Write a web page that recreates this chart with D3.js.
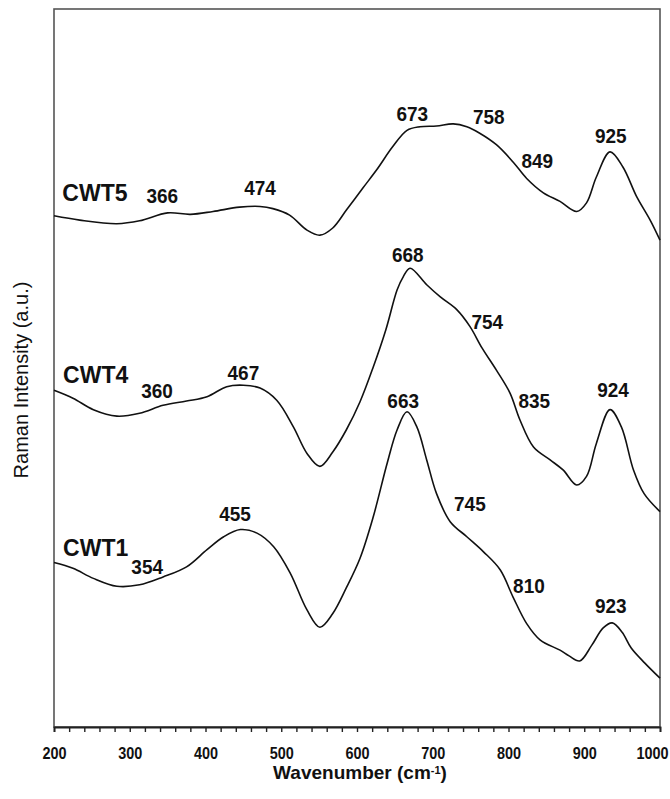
<!DOCTYPE html>
<html>
<head>
<meta charset="utf-8">
<script src="https://cdn.jsdelivr.net/npm/d3@7"></script>
<style>
  body { margin: 0; background: #fff; }
  svg { display: block; }
</style>
</head>
<body>
<svg id="chart" width="670" height="799"></svg>
<script>
// Raman spectra of three samples, stacked with vertical offsets (arbitrary units)
const cwt5Wavenumber = [200,234,283,313,350,380,410,445,472,489,511,534,551,568,586,608,626,647,666,683,705,727,745,762,784,806,824,846,868,890,903,916,934,951,969,987,1000];
const cwt5Intensity  = [71.2,70.6,70.1,70.5,71.6,71.4,71.8,72.4,72.5,72.2,71.3,69.2,68.5,69.5,72.0,75.1,77.6,80.8,83.1,83.6,83.7,84.0,83.6,82.7,81.1,78.7,76.4,74.4,73.2,71.8,73.0,76.6,80.1,78.0,73.9,70.6,67.8];

const cwt4Wavenumber = [200,225,252,283,313,344,375,402,428,450,472,494,516,534,551,568,586,604,621,638,653,661,670,692,710,732,749,765,784,802,815,833,855,872,890,903,916,934,949,965,979,1000];
const cwt4Intensity  = [46.9,45.8,44.2,43.3,43.7,44.8,45.4,46.0,47.4,47.6,47.2,45.5,41.8,38.1,36.3,38.3,41.4,45.3,50.0,55.3,60.9,62.7,63.9,61.6,59.9,58.1,55.8,52.8,49.7,46.5,42.8,39.0,37.2,35.8,33.7,34.9,39.5,44.2,41.8,35.8,32.5,30.0];

const cwt1Wavenumber = [200,225,252,283,313,344,375,402,424,446,468,490,512,534,551,568,586,604,621,640,653,666,679,692,705,723,745,767,789,806,824,842,868,880,894,910,925,937,950,962,980,1000];
const cwt1Intensity  = [22.9,22.1,20.7,19.6,19.8,20.9,22.3,24.7,26.5,27.5,27.0,25.1,21.4,16.3,13.9,15.8,19.4,23.5,29.1,36.8,41.4,43.9,41.8,37.2,32.5,28.6,26.5,24.4,21.9,18.1,14.4,12.1,10.7,9.9,9.2,11.4,13.8,14.5,13.2,11.0,8.9,6.8];

// Sample names and where they sit (wavenumber, intensity)
const sampleNames = ["CWT5", "CWT4", "CWT1"];
const sampleNameX = [254, 255, 255];
const sampleNameY = [74.4, 49.0, 25.0];

// Band annotations (band position text, anchor wavenumber, anchor intensity)
const bandText = ["366","474","673","758","849","925",
                  "360","467","668","754","835","924",
                  "354","455","663","745","810","923"];
const bandX = [343,472,673,774,838,935,
               336,450,667,772,834,938,
               323,439,661,749,827,935];
const bandY = [74.0,75.1,85.4,85.0,78.8,82.3,
               46.8,49.4,65.7,56.5,45.5,46.9,
               22.3,29.7,45.5,31.1,19.7,16.9];

const xTicks = d3.range(200, 1001, 20);

const width = 670, height = 799;
const margin = { top: 9, right: 10, bottom: 72, left: 54 };

const svg = d3.select("#chart");
const x = d3.scaleLinear().domain([200, 1000]).range([margin.left, width - margin.right]);
const y = d3.scaleLinear().domain([0, 100]).range([height - margin.bottom, margin.top]);

const FONT = "'Liberation Sans', Arial, Helvetica, sans-serif";

// Plot frame
svg.append("rect")
  .attr("x", x(200)).attr("y", y(100))
  .attr("width", x(1000) - x(200)).attr("height", y(0) - y(100))
  .attr("fill", "none").attr("stroke", "#555").attr("stroke-width", 1.6);

// Bottom axis
const xAxis = d3.axisBottom(x)
  .tickValues(xTicks)
  .tickSize(5)
  .tickPadding(15)
  .tickFormat(d => d % 100 === 0 ? d : "");

const gx = svg.append("g")
  .attr("transform", `translate(0,${y(0)})`)
  .call(xAxis);
gx.select(".domain").attr("stroke", "#222").attr("stroke-width", 1.8);
gx.selectAll(".tick line").attr("stroke", "#222").attr("stroke-width", 1.4);
gx.selectAll(".tick text")
  .attr("fill", "#111")
  .attr("transform", "scale(0.85,1)")
  .style("font", `bold 17px ${FONT}`);
// keep the last label inside the page edge
gx.selectAll(".tick text")
  .filter(d => d === 1000)
  .attr("text-anchor", "end")
  .attr("x", (width - 2 - x(1000)) / 0.85);

// Spectra
const line = d3.line()
  .x(d => x(d[0]))
  .y(d => y(d[1]))
  .curve(d3.curveCatmullRom.alpha(0.5));

const spectra = [
  d3.zip(cwt5Wavenumber, cwt5Intensity),
  d3.zip(cwt4Wavenumber, cwt4Intensity),
  d3.zip(cwt1Wavenumber, cwt1Intensity)
];

svg.append("g")
  .selectAll("path")
  .data(spectra)
  .join("path")
  .attr("d", line)
  .attr("fill", "none")
  .attr("stroke", "#111")
  .attr("stroke-width", 1.6)
  .attr("stroke-linejoin", "round");

// Text helper: centred text with an optional horizontal squeeze
function centredText(g, text, xv, yv, size, weight, sx) {
  g.append("text")
    .attr("transform", `translate(${x(xv)},${y(yv)}) scale(${sx},1)`)
    .attr("text-anchor", "middle")
    .attr("dy", "0.36em")
    .attr("fill", "#111")
    .style("font", `${weight} ${size}px ${FONT}`)
    .text(text);
}

const notes = svg.append("g");
sampleNames.forEach((s, i) => centredText(notes, s, sampleNameX[i], sampleNameY[i], 23, "bold", 1));
bandText.forEach((t, i) => centredText(notes, t, bandX[i], bandY[i], 20, "bold", 0.95));

// Axis titles
const xTitle = svg.append("text")
  .attr("x", (x(200) + x(1000)) / 2 + 3)
  .attr("y", 779)
  .attr("text-anchor", "middle")
  .attr("fill", "#111")
  .style("font", `bold 19px ${FONT}`);
xTitle.append("tspan").text("Wavenumber (cm");
xTitle.append("tspan").attr("dy", -5).style("font-size", "11px").text("-1");
xTitle.append("tspan").attr("dy", 5).text(")");

svg.append("text")
  .attr("transform", `translate(28,${(y(0) + y(100)) / 2 + 12}) rotate(-90)`)
  .attr("text-anchor", "middle")
  .attr("fill", "#111")
  .style("font", `normal 20px ${FONT}`)
  .text("Raman Intensity (a.u.)");
</script>
</body>
</html>
